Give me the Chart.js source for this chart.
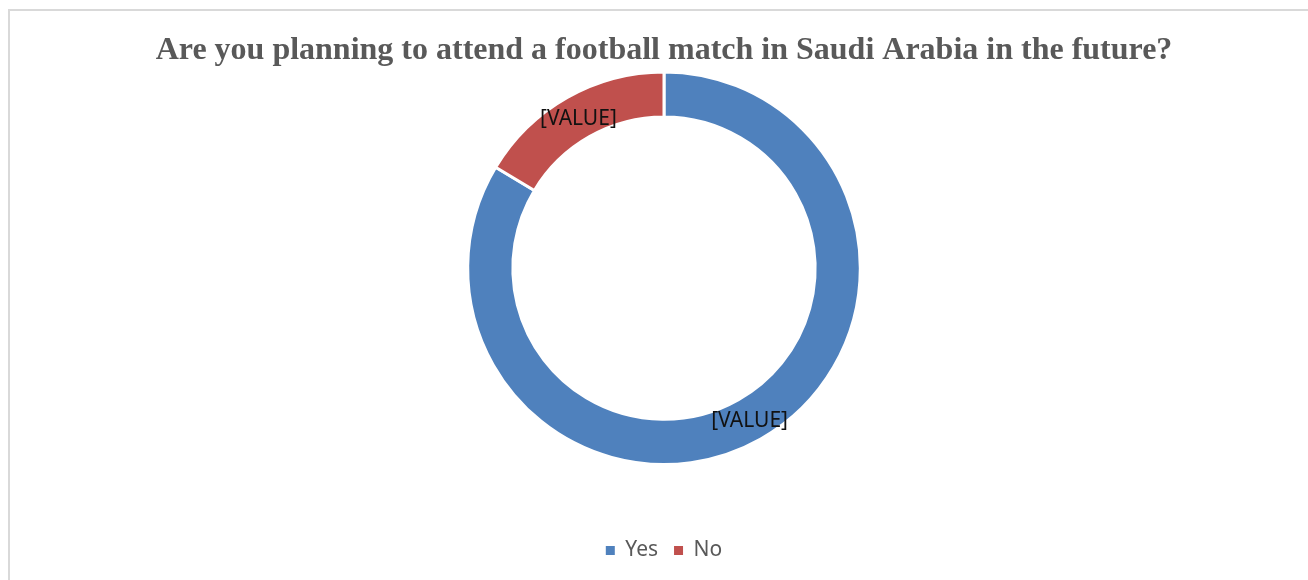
<!DOCTYPE html>
<html>
<head>
<meta charset="utf-8">
<script src="https://cdn.jsdelivr.net/npm/chart.js@4"></script>
<style>
  html, body { margin: 0; padding: 0; background: #fff; overflow: hidden; }
  #marco { position: absolute; left: 8px; top: 9px; width: 1400px; height: 700px; border: 2px solid #d9d9d9; }
  #contenedor { position: absolute; left: 0; top: 0; width: 1308px; height: 580px; }
</style>
</head>
<body>
<div id="marco"></div>
<div id="contenedor"><canvas id="graficoAsistencia" width="1308" height="580"></canvas></div>
<script>
const titulo = "Are you planning to attend a football match in Saudi Arabia in the future?";
const respuestas = ["Yes", "No"];
const porcentajes = [83.6, 16.4];
const etiquetasValor = ["[VALUE]", "[VALUE]"];
const colores = ["#4F81BD", "#C0504D"];

// etiquetas de datos sobre cada porción
const pluginEtiquetas = {
  id: "etiquetasValor",
  afterDatasetsDraw(chart) {
    const ctx = chart.ctx;
    const meta = chart.getDatasetMeta(0);
    ctx.save();
    ctx.font = "21px 'Noto Sans'";
    ctx.fillStyle = "#111111";
    ctx.textAlign = "center";
    ctx.textBaseline = "middle";
    meta.data.forEach((arc, i) => {
      const pos = arc.tooltipPosition();
      ctx.fillText(etiquetasValor[i], pos.x, pos.y + 2);
    });
    ctx.restore();
  }
};

const generarEtiquetasBase = Chart.overrides.doughnut.plugins.legend.labels.generateLabels;

const ctx = document.getElementById("graficoAsistencia").getContext("2d");
new Chart(ctx, {
  type: "doughnut",
  data: {
    labels: respuestas,
    datasets: [{
      data: porcentajes,
      backgroundColor: colores,
      borderColor: "#ffffff",
      borderWidth: 3
    }]
  },
  options: {
    responsive: false,
    animation: false,
    cutout: "77%",
    layout: { padding: { left: 20, right: 0, top: 0, bottom: 9 } },
    plugins: {
      title: {
        display: true,
        text: titulo,
        color: "#595959",
        font: { family: "'Liberation Serif', 'Times New Roman', serif", size: 32, weight: "bold" },
        padding: { top: 32, bottom: 0 }
      },
      subtitle: {
        // separador entre el anillo y la leyenda
        display: true,
        position: "bottom",
        weight: 500,
        text: " ",
        font: { size: 1, lineHeight: 1 },
        padding: { top: 57, bottom: 0 }
      },
      legend: {
        position: "bottom",
        labels: {
          color: "#595959",
          font: { family: "'Noto Sans'", size: 21 },
          boxWidth: 9,
          boxHeight: 9,
          padding: 16,
          generateLabels(chart) {
            return generarEtiquetasBase(chart).map(l => ({ ...l, lineWidth: 0 }));
          }
        }
      },
      tooltip: { enabled: false }
    }
  },
  plugins: [pluginEtiquetas]
});
</script>
</body>
</html>
